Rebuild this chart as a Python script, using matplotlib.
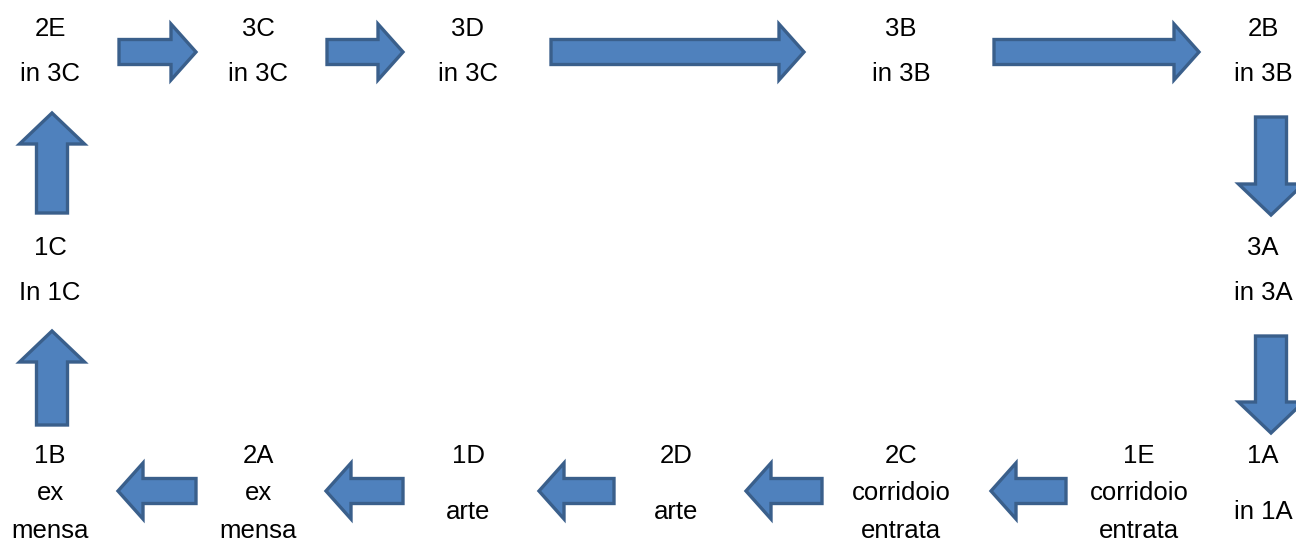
import matplotlib
matplotlib.use("Agg")
import matplotlib.pyplot as plt
from matplotlib.patches import FancyArrow

plt.rcParams['font.family'] = ['Liberation Sans', 'DejaVu Sans']

# Node labels (lines of text) and their anchor positions (pixels)
labels = [
    ["2E", "in 3C"], ["3C", "in 3C"], ["3D", "in 3C"], ["3B", "in 3B"], ["2B", "in 3B"],
    ["3A", "in 3A"], ["1A", "", "in 1A"], ["1E", "corridoio", "entrata"],
    ["2C", "corridoio", "entrata"], ["2D", "", "arte"], ["1D", "", "arte"],
    ["2A", "ex", "mensa"], ["1B", "ex", "mensa"], ["1C", "In 1C"],
]
label_x = [50, 258, 468, 901, 1263, 1263, 1263, 1139, 901, 676, 468, 258, 50, 50]
label_y0 = [29, 29, 29, 29, 29, 248, 456, 456, 456, 456, 456, 456, 456, 248]
line_gap2 = 45   # spacing for two-line labels
line_gap3 = 37.5   # spacing for three-line labels (bottom row)

# Arrows: (x_start, y_start, x_end, y_end)
arrows = [
    (119, 52, 196, 52), (327, 52, 403, 52), (551, 52, 804, 52), (994, 52, 1199, 52),
    (1271, 117, 1271, 215), (1271, 336, 1271, 433),
    (196, 491, 118, 491), (403, 491, 326, 491), (614, 491, 539, 491),
    (822, 491, 746, 491), (1066, 491, 991, 491),
    (52, 425, 52, 331), (52, 213, 52, 113),
]

W, H = 1296, 539
fig = plt.figure(figsize=(W / 100, H / 100), dpi=100)
ax = fig.add_axes([0, 0, 1, 1])
ax.set_xlim(0, W)
ax.set_ylim(H, 0)
ax.axis('off')

for (x0, y0, x1, y1) in arrows:
    dx, dy = x1 - x0, y1 - y0
    if dy == 0:
        sw, hw, hl = 25, 56, 25
    else:
        sw, hw, hl = 31, 65, 31
    ax.add_patch(FancyArrow(x0, y0, dx, dy, width=sw, head_width=hw,
                            head_length=hl, length_includes_head=True,
                            facecolor='#4F81BD', edgecolor='#3A5F8B',
                            linewidth=2.4, joinstyle='miter'))

for lines, x, y0 in zip(labels, label_x, label_y0):
    if len(lines) == 2:
        ys = [y0, y0 + line_gap2]
    else:
        if lines[1] == "":
            ys = [y0, None, y0 + 56]
        else:
            ys = [y0, y0 + line_gap3, y0 + 2 * line_gap3]
    for t, y in zip(lines, ys):
        if t == "" or y is None:
            continue
        ax.text(x, y, t, ha='center', va='center', fontsize=18.5, color='black')

fig.savefig('out.png', dpi=100)
